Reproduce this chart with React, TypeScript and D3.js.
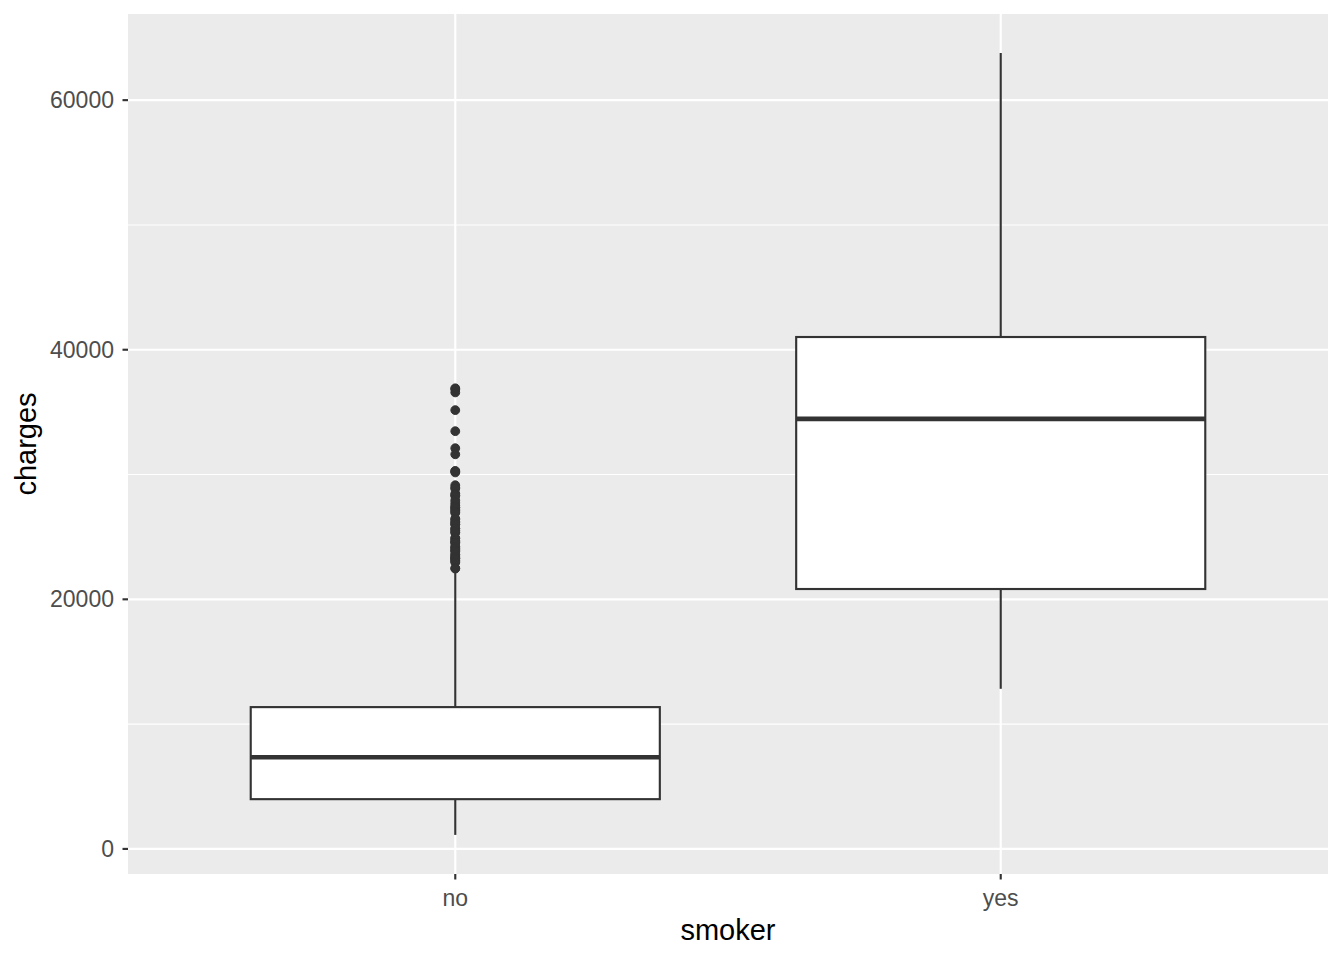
import React from "react";
import * as d3 from "d3";

const categories = ["no", "yes"];
// five-number summaries (lower whisker, Q1, median, Q3, upper whisker)
const lowerWhisker = [1121.87, 12829.46];
const q1 = [3986.44, 20826.24];
const median = [7345.41, 34456.35];
const q3 = [11362.89, 41019.21];
const upperWhisker = [22412.65, 63770.43];
// outliers for "no"
const outliersNo = [
  36910.61, 36837.47, 36580.28, 35160.13, 33471.97, 32108.66, 31620.0,
  30284.64, 30259.99, 30166.62, 29141.36, 28950.47, 28868.66, 28476.73,
  28340.19, 28287.9, 27941.29, 27724.29, 27533.91, 27375.9, 27346.04,
  27218.44, 27117.99, 27000.98, 26926.51, 26467.1, 26392.26, 26236.58,
  26140.36, 26018.95, 25992.82, 25678.78, 25656.58, 25517.11, 25382.3,
  25333.33, 24915.05, 24873.38, 24671.66, 24667.42, 24535.7, 24513.09,
  24227.34, 24180.93, 24059.68, 23967.38, 23887.66, 23807.24, 23568.27,
  23563.02, 23401.31, 23306.55, 23288.93, 23244.79, 23082.96, 23065.42,
  22951.0, 22493.66, 22462.04,
];
const yTicks = [0, 20000, 40000, 60000];
const yMinor = [10000, 30000, 50000];

export default function App() {
  const W = 1344, H = 960;
  const left = 128, right = 1328, top = 14, bottom = 874;
  const dataMin = Math.min(...lowerWhisker);
  const dataMax = Math.max(...upperWhisker, ...outliersNo);
  const pad = (dataMax - dataMin) * 0.05;
  const y = d3.scaleLinear().domain([dataMin - pad, dataMax + pad]).range([bottom, top]);
  const x = d3.scaleLinear().domain([0.4, 2.6]).range([left, right]);
  const bw = 0.75;
  const dark = "#333333";
  return (
    <svg width={W} height={H} style={{ position: "absolute", left: 0, top: 0 }}
      fontFamily="Liberation Sans, Arial, sans-serif">
      <rect x={0} y={0} width={W} height={H} fill="white" />
      <rect x={left} y={top} width={right - left} height={bottom - top} fill="#EBEBEB" />
      {yMinor.map((v) => (
        <line key={"m" + v} x1={left} x2={right} y1={y(v)} y2={y(v)} stroke="white" strokeWidth={1.07} />
      ))}
      {yTicks.map((v) => (
        <line key={"g" + v} x1={left} x2={right} y1={y(v)} y2={y(v)} stroke="white" strokeWidth={2.13} />
      ))}
      {categories.map((c, i) => (
        <line key={"gx" + c} x1={x(i + 1)} x2={x(i + 1)} y1={top} y2={bottom} stroke="white" strokeWidth={2.13} />
      ))}
      {categories.map((c, i) => {
        const cx = x(i + 1);
        const x0 = x(i + 1 - bw / 2), x1 = x(i + 1 + bw / 2);
        return (
          <g key={c}>
            <line x1={cx} x2={cx} y1={y(upperWhisker[i])} y2={y(q3[i])} stroke={dark} strokeWidth={2.13} />
            <line x1={cx} x2={cx} y1={y(q1[i])} y2={y(lowerWhisker[i])} stroke={dark} strokeWidth={2.13} />
            <rect x={x0} y={y(q3[i])} width={x1 - x0} height={y(q1[i]) - y(q3[i])} fill="white" stroke={dark} strokeWidth={2.13} />
            <line x1={x0} x2={x1} y1={y(median[i])} y2={y(median[i])} stroke={dark} strokeWidth={4.6} />
          </g>
        );
      })}
      {outliersNo.map((v, k) => (
        <circle key={"o" + k} cx={x(1)} cy={y(v)} r={4.4} fill={dark} stroke={dark} strokeWidth={1} />
      ))}
      {yTicks.map((v) => (
        <g key={"t" + v}>
          <line x1={left - 5.5} x2={left} y1={y(v)} y2={y(v)} stroke={dark} strokeWidth={2.13} />
          <text x={left - 14} y={y(v)} dy="0.35em" textAnchor="end" fontSize={23} fill="#4D4D4D">{v}</text>
        </g>
      ))}
      {categories.map((c, i) => (
        <g key={"xt" + c}>
          <line x1={x(i + 1)} x2={x(i + 1)} y1={bottom} y2={bottom + 5.5} stroke={dark} strokeWidth={2.13} />
          <text x={x(i + 1)} y={906} textAnchor="middle" fontSize={23} fill="#4D4D4D">{c}</text>
        </g>
      ))}
      <text x={(left + right) / 2} y={940} textAnchor="middle" fontSize={29} fill="black">smoker</text>
      <text transform={`translate(36,${(top + bottom) / 2}) rotate(-90)`} textAnchor="middle" fontSize={29} fill="black">charges</text>
    </svg>
  );
}
